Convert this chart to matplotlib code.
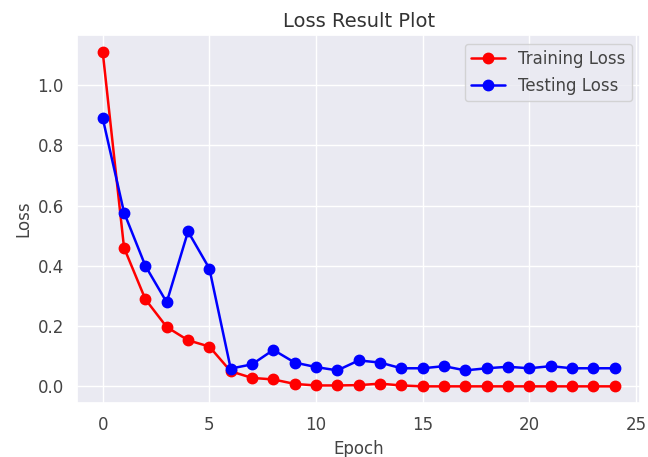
import matplotlib
matplotlib.use("Agg")
import matplotlib.pyplot as plt
import seaborn as sns

sns.set_theme(style="darkgrid")
plt.rcParams['font.family'] = ['DejaVu Sans']

epochs = list(range(25))
training_loss = [1.11, 0.46, 0.289, 0.197, 0.153, 0.132, 0.05, 0.028, 0.023, 0.008,
                 0.003, 0.003, 0.004, 0.009, 0.003, 0.0, 0.0, 0.0, 0.0, 0.0,
                 0.0, 0.0, 0.0, 0.0, 0.0]
testing_loss = [0.89, 0.577, 0.40, 0.279, 0.514, 0.391, 0.059, 0.073, 0.121, 0.079,
                0.064, 0.053, 0.086, 0.079, 0.060, 0.060, 0.067, 0.053, 0.060, 0.065,
                0.060, 0.067, 0.060, 0.060, 0.060]

fig = plt.figure(figsize=(6.48, 4.57), dpi=100)
ax = fig.add_axes([0.119, 0.118, 0.869, 0.805])
ax.plot(epochs, training_loss, color='red', marker='o', markersize=7.5, linewidth=1.8,
        label='Training Loss')
ax.plot(epochs, testing_loss, color='blue', marker='o', markersize=7.5, linewidth=1.8,
        label='Testing Loss')
ax.set_title('Loss Result Plot', fontsize=14, color='#333333')
ax.set_xlabel('Epoch', fontsize=12, color='#444444')
ax.set_ylabel('Loss', fontsize=12, color='#444444')
ax.tick_params(labelsize=12, labelcolor='#444444')
leg = ax.legend(loc='upper right', fontsize=12)
for t in leg.get_texts():
    t.set_color('#444444')
fig.savefig('out.png', dpi=100)
